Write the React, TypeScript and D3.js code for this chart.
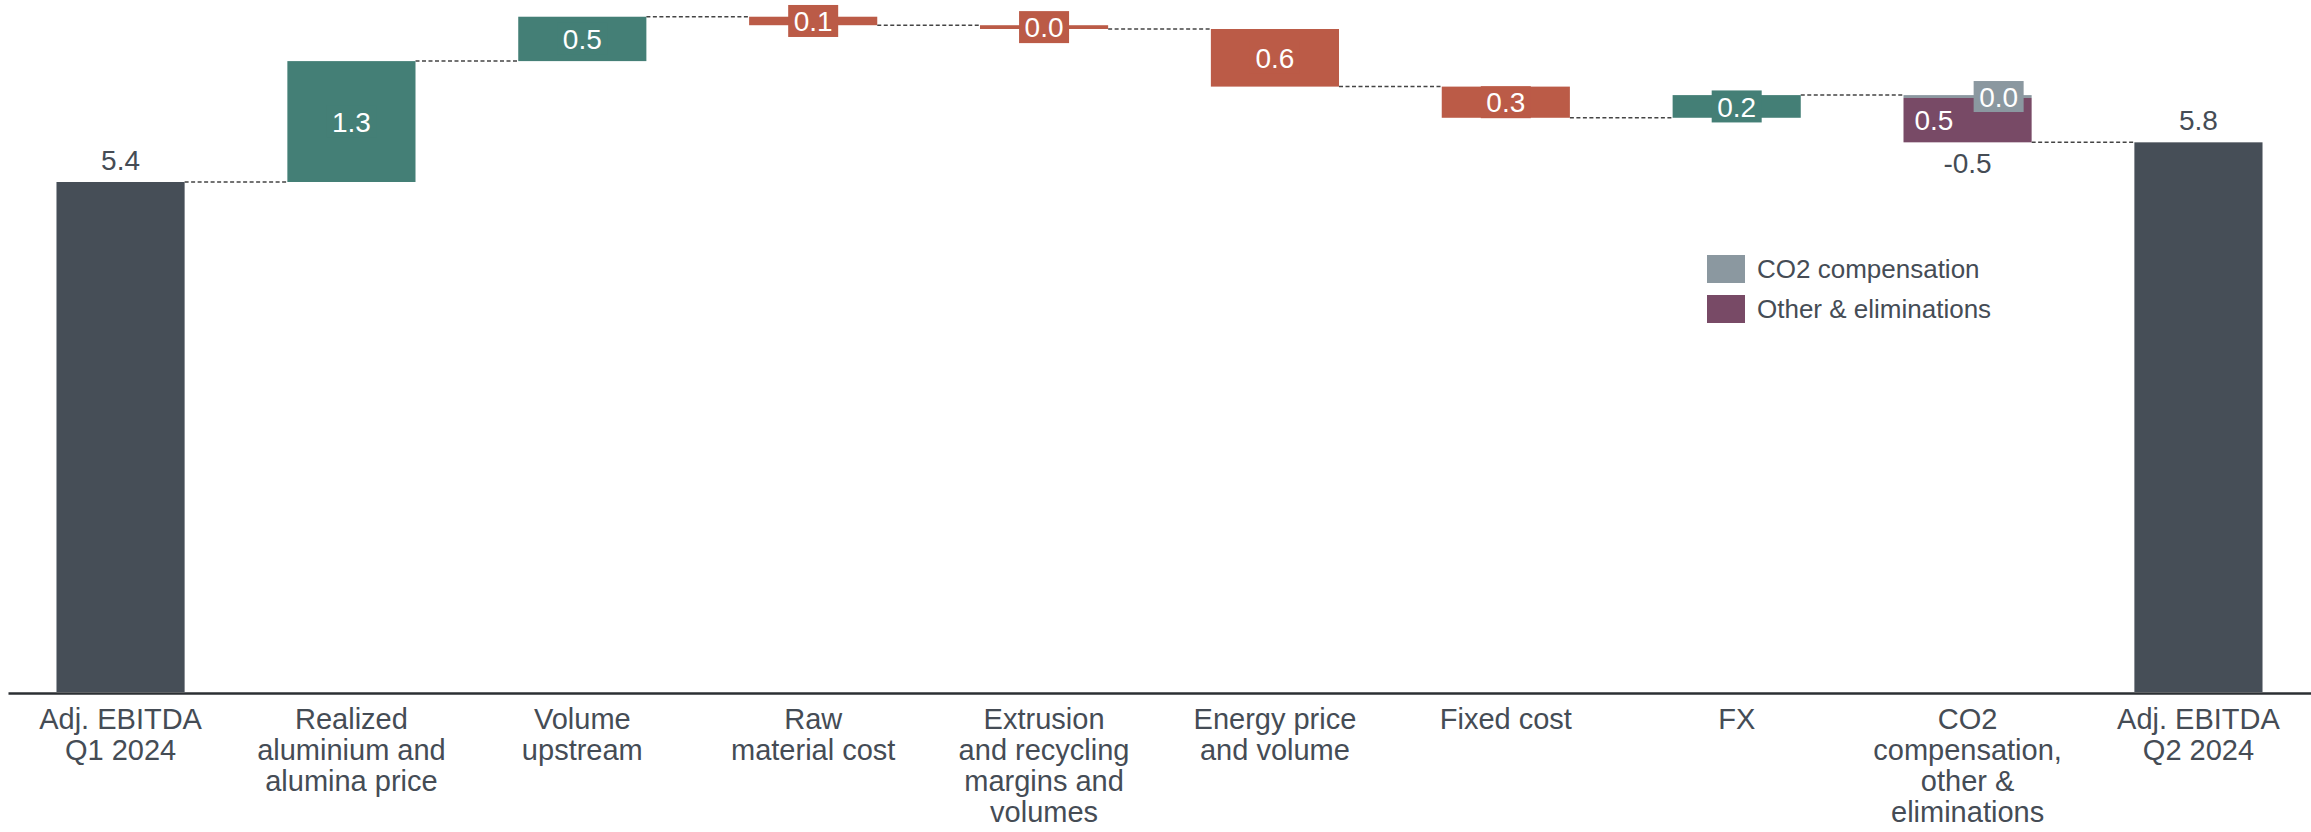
import React, { useRef, useEffect } from "react";
import * as d3 from "d3";

// categories along the x axis and their line-broken tick labels
const categories = [
  "Adj. EBITDA Q1 2024",
  "Realized aluminium and alumina price",
  "Volume upstream",
  "Raw material cost",
  "Extrusion and recycling margins and volumes",
  "Energy price and volume",
  "Fixed cost",
  "FX",
  "CO2 compensation, other & eliminations",
  "Adj. EBITDA Q2 2024",
];
const tickLines = [
  ["Adj. EBITDA", "Q1 2024"],
  ["Realized", "aluminium and", "alumina price"],
  ["Volume", "upstream"],
  ["Raw", "material cost"],
  ["Extrusion", "and recycling", "margins and", "volumes"],
  ["Energy price", "and volume"],
  ["Fixed cost"],
  ["FX"],
  ["CO2", "compensation,", "other &", "eliminations"],
  ["Adj. EBITDA", "Q2 2024"],
];

// NOK billion
const openingValue = 5.4;
const driverValues = [1.28, 0.47, -0.09, -0.04, -0.61, -0.33, 0.24];
const splitLabels = ["CO2 compensation", "Other & eliminations"];
const splitValues = [-0.03, -0.47];

const width = 2311;
const height = 832;
const FONT = '"Liberation Sans", Arial, Helvetica, sans-serif';
const TEXT = "#454c55";
const DARK = "#464e57";
const UP = "#447f76";
const DOWN = "#bb5b47";
const splitColors = ["#8b98a0", "#784a66"];

type Step = {
  cat: string;
  y0: number;
  y1: number;
  kind: "total" | "delta" | "split";
};

const App = () => {
  const ref = useRef<SVGSVGElement>(null);

  useEffect(() => {
    if (!ref.current) return;
    const svg = d3.select(ref.current);
    svg.selectAll("*").remove();

    const x = d3
      .scaleBand()
      .domain(categories)
      .range([8, width])
      .paddingInner(0.445)
      .paddingOuter(0.21);
    const y = d3.scaleLinear().domain([0, 7.2]).range([692, 12]);
    const bw = x.bandwidth();

    // running levels
    let level = openingValue;
    const steps: Step[] = [{ cat: categories[0], y0: 0, y1: openingValue, kind: "total" }];
    driverValues.forEach((v, i) => {
      steps.push({ cat: categories[i + 1], y0: level, y1: level + v, kind: "delta" });
      level += v;
    });
    const splitStart = level;
    const parts = splitValues.map((v, i) => {
      const p = { y0: level, y1: level + v, color: splitColors[i], value: v };
      level += v;
      return p;
    });
    steps.push({ cat: categories[8], y0: splitStart, y1: level, kind: "split" });
    steps.push({ cat: categories[9], y0: 0, y1: level, kind: "total" });

    // dashed connectors
    svg
      .selectAll(".conn")
      .data(steps.slice(0, -1))
      .enter()
      .append("line")
      .attr("x1", (d) => (x(d.cat) ?? 0) + bw)
      .attr("x2", (d, i) => x(steps[i + 1].cat) ?? 0)
      .attr("y1", (d) => y(d.y1))
      .attr("y2", (d) => y(d.y1))
      .attr("stroke", "#444")
      .attr("stroke-width", 1.5)
      .attr("stroke-dasharray", "4,2.5");

    // bars
    const plain = steps.filter((s) => s.kind !== "split");
    svg
      .selectAll(".bar")
      .data(plain)
      .enter()
      .append("rect")
      .attr("x", (d) => x(d.cat) ?? 0)
      .attr("width", bw)
      .attr("y", (d) => y(Math.max(d.y0, d.y1)))
      .attr("height", (d) => Math.abs(y(d.y0) - y(d.y1)))
      .attr("fill", (d) => (d.kind === "total" ? DARK : d.y1 >= d.y0 ? UP : DOWN));

    // split bar segments
    const splitX = x(categories[8]) ?? 0;
    svg
      .selectAll(".part")
      .data(parts)
      .enter()
      .append("rect")
      .attr("x", splitX)
      .attr("width", bw)
      .attr("y", (d) => y(Math.max(d.y0, d.y1)))
      .attr("height", (d) => Math.abs(y(d.y0) - y(d.y1)))
      .attr("fill", (d) => d.color);

    // total labels above
    svg
      .selectAll(".total-label")
      .data(steps.filter((s) => s.kind === "total"))
      .enter()
      .append("text")
      .attr("x", (d) => (x(d.cat) ?? 0) + bw / 2)
      .attr("y", (d) => y(d.y1) - 12)
      .attr("text-anchor", "middle")
      .attr("font-family", FONT)
      .attr("font-size", 28)
      .attr("fill", TEXT)
      .text((d) => d.y1.toFixed(1));

    // delta labels with a box in the bar colour
    const deltas = steps.filter((s) => s.kind === "delta");
    const dg = svg
      .selectAll(".delta-label")
      .data(deltas)
      .enter()
      .append("g")
      .attr(
        "transform",
        (d) => `translate(${(x(d.cat) ?? 0) + bw / 2},${(y(d.y0) + y(d.y1)) / 2})`
      );
    dg.append("rect")
      .attr("x", -25)
      .attr("y", -16)
      .attr("width", 50)
      .attr("height", 32)
      .attr("fill", (d) => (d.y1 >= d.y0 ? UP : DOWN));
    dg.append("text")
      .attr("text-anchor", "middle")
      .attr("dy", "0.36em")
      .attr("font-family", FONT)
      .attr("font-size", 28)
      .attr("fill", "#fff")
      .text((d) => Math.abs(d.y1 - d.y0).toFixed(1));

    // split bar labels
    const co2 = parts[0];
    const cy = (y(co2.y0) + y(co2.y1)) / 2;
    svg
      .append("rect")
      .attr("x", splitX + bw - 58)
      .attr("y", cy - 15.5)
      .attr("width", 50)
      .attr("height", 31)
      .attr("fill", co2.color);
    svg
      .append("text")
      .attr("x", splitX + bw - 33)
      .attr("y", cy)
      .attr("dy", "0.36em")
      .attr("text-anchor", "middle")
      .attr("font-family", FONT)
      .attr("font-size", 28)
      .attr("fill", "#fff")
      .text(Math.abs(co2.value).toFixed(1));
    const other = parts[1];
    svg
      .append("text")
      .attr("x", splitX + 11)
      .attr("y", (y(other.y0) + y(other.y1)) / 2)
      .attr("dy", "0.36em")
      .attr("font-family", FONT)
      .attr("font-size", 28)
      .attr("fill", "#fff")
      .text(Math.abs(other.value).toFixed(1));
    svg
      .append("text")
      .attr("x", splitX + bw / 2)
      .attr("y", y(level) + 31)
      .attr("text-anchor", "middle")
      .attr("font-family", FONT)
      .attr("font-size", 28)
      .attr("fill", TEXT)
      .text((level - splitStart).toFixed(1));

    // x axis
    const axis = svg
      .append("g")
      .attr("transform", `translate(0,${y(0) + 1})`)
      .call(d3.axisBottom(x).tickSize(0).tickSizeOuter(0));
    axis.select(".domain").attr("stroke", "#2b2f33").attr("stroke-width", 2.5);
    axis
      .selectAll<SVGTextElement, string>(".tick text")
      .attr("y", 36)
      .attr("dy", null)
      .attr("font-family", FONT)
      .attr("font-size", 29)
      .attr("fill", TEXT)
      .each(function (d) {
        const t = d3.select(this);
        t.text(null);
        const lines = tickLines[categories.indexOf(d)];
        lines.forEach((l, i) => {
          t.append("tspan")
            .attr("x", 0)
            .attr("dy", i === 0 ? 0 : 31)
            .text(l);
        });
      });

    // legend
    const lg = svg
      .selectAll(".legend")
      .data(splitLabels)
      .enter()
      .append("g")
      .attr("transform", (d, i) => `translate(1707,${255 + i * 40})`);
    lg.append("rect")
      .attr("width", 38)
      .attr("height", 28)
      .attr("fill", (d, i) => splitColors[i]);
    lg.append("text")
      .attr("x", 50)
      .attr("y", 23)
      .attr("font-family", FONT)
      .attr("font-size", 26)
      .attr("fill", TEXT)
      .text((d) => d);
  }, []);

  return (
    <svg
      ref={ref}
      width={width}
      height={height}
      style={{ position: "absolute", left: 0, top: 0, background: "#fff" }}
    />
  );
};

export default App;
